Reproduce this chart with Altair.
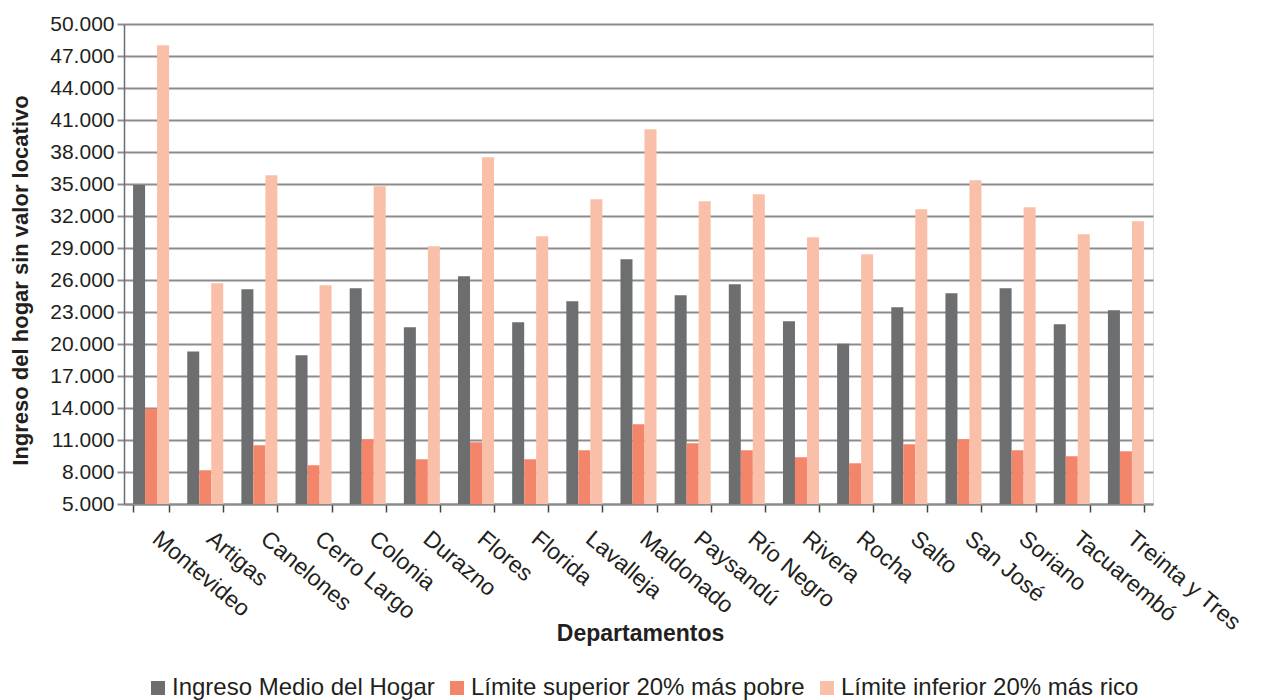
import altair as alt
import pandas as pd

departamentos = ["Montevideo", "Artigas", "Canelones", "Cerro Largo", "Colonia", "Durazno",
                 "Flores", "Florida", "Lavalleja", "Maldonado", "Paysandú", "Río Negro",
                 "Rivera", "Rocha", "Salto", "San José", "Soriano", "Tacuarembó", "Treinta y Tres"]
ingreso_medio = [34900, 19300, 25130, 18940, 25220, 21570, 26350, 22030, 24000, 27940,
                 24570, 25600, 22130, 20030, 23440, 24750, 25220, 21850, 23160]
limite_pobre = [13940, 8160, 10500, 8630, 11070, 9190, 10780, 9190, 10030, 12470,
                10690, 10030, 9380, 8820, 10600, 11070, 10030, 9470, 9940]
limite_rico = [48000, 25690, 35820, 25500, 34780, 29160, 37500, 30100, 33570, 40130,
               33380, 34030, 30000, 28410, 32630, 35350, 32820, 30280, 31500]
series = ["Ingreso Medio del Hogar", "Límite superior 20% más pobre", "Límite inferior 20% más rico"]
colores = ["#6d6e70", "#f3866a", "#f9bfa8"]
y_ticks = list(range(5000, 50001, 3000))

rows = []
for i, d in enumerate(departamentos):
    for s, vals in zip(series, [ingreso_medio, limite_pobre, limite_rico]):
        rows.append({"Departamento": d, "Serie": s, "Valor": vals[i]})
df = pd.DataFrame(rows)

font = "Liberation Sans"

chart = alt.Chart(df).mark_bar(clip=True).encode(
    x=alt.X("Departamento:N", sort=departamentos,
            scale=alt.Scale(paddingInner=0.335, paddingOuter=0.1675),
            axis=alt.Axis(title="Departamentos", labelAngle=40, labelAlign="left",
                          labelBaseline="top", labelPadding=15, labelOffset=11,
                          labelFontSize=23, labelFont=font, labelColor="#231f20",
                          tickBand="extent", tickSize=8, tickColor="#444444", tickWidth=1.5,
                          domainColor="#8c8c8c", domainWidth=2, grid=False,
                          titleFont=font, titleFontSize=23, titleFontWeight="bold",
                          titleColor="#231f20", titleX=516, titleY=129,
                          titleAlign="center", titleBaseline="middle")),
    xOffset=alt.XOffset("Serie:N", sort=series, scale=alt.Scale(paddingInner=0, paddingOuter=0)),
    y=alt.Y("Valor:Q", scale=alt.Scale(domain=[5000, 50000], zero=False, nice=False),
            axis=alt.Axis(title="Ingreso del hogar sin valor locativo", values=y_ticks,
                          labelExpr="replace(format(datum.value, ','), ',', '.')",
                          labelFontSize=21, labelFont=font, labelColor="#231f20",
                          labelPadding=3, tickSize=7, tickColor="#8c8c8c", tickWidth=2,
                          domainColor="#6d6d6d", domainWidth=1.5,
                          gridColor="#8c8c8c", gridWidth=2,
                          titleFont=font, titleFontSize=22, titleFontWeight="bold",
                          titleColor="#231f20", titleAngle=-90, titleX=-104, titleY=256,
                          titleAlign="center", titleBaseline="middle")),
    color=alt.Color("Serie:N", sort=series,
                    scale=alt.Scale(domain=series, range=colores),
                    legend=alt.Legend(title=None, orient="none", direction="horizontal",
                                      legendX=22, legendY=652, padding=0,
                                      symbolType="square", symbolSize=196, symbolStrokeWidth=0,
                                      symbolOpacity=1, labelOffset=2, columnPadding=10,
                                      labelFont=font, labelFontSize=24, labelColor="#231f20",
                                      labelLimit=400)),
).properties(
    width=1029, height=480,
    autosize=alt.AutoSizeParams(type="none"),
    padding={"left": 116, "top": 16, "right": 100, "bottom": 196},
).configure_view(stroke=None).configure(background="white")

chart.save("out.html", embed_options={"renderer": "svg", "actions": False})
